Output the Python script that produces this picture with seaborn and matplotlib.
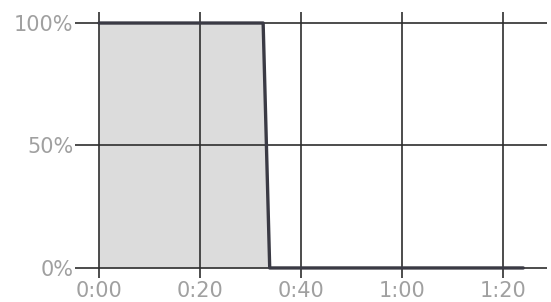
import matplotlib
matplotlib.use("Agg")
import matplotlib.pyplot as plt
import seaborn as sns
import pandas as pd

# data (seconds, percent)
time_s = [0, 32.5, 33.8, 84]
percent = [100, 100, 0, 0]
x_ticks = [0, 20, 40, 60, 80]
x_labels = ["0:00", "0:20", "0:40", "1:00", "1:20"]
y_ticks = [0, 50, 100]
y_labels = ["0%", "50%", "100%"]

sns.set_theme(style="white")
plt.rcParams['font.family'] = ['DejaVu Sans']

df = pd.DataFrame({"t": time_s, "p": percent})

fig = plt.figure(figsize=(5.51, 3.02), dpi=100)
ax = fig.add_axes([75/551, 24/302, (547-75)/551, (290-24)/302])
ax.set_xlim(-4.75, 88.7)
ax.set_ylim(-4.1, 104.5)

grid_c = "#2e2e2e"
for xt in x_ticks:
    ax.axvline(xt, color=grid_c, lw=1.2, zorder=2)
for yt in y_ticks:
    ax.axhline(yt, color=grid_c, lw=1.2, zorder=2)

ax.fill_between(df["t"], df["p"], 0, color="#dcdcdc", zorder=1, linewidth=0)
sns.lineplot(data=df, x="t", y="p", ax=ax, color="#3a3a44", lw=2.4, zorder=3,
             sort=False)

for s in ax.spines.values():
    s.set_visible(False)
ax.set_xticks(x_ticks)
ax.set_xticklabels(x_labels)
ax.set_yticks(y_ticks)
ax.set_yticklabels(y_labels)
ax.tick_params(axis="both", length=0, labelsize=15, labelcolor="#a0a0a0")
ax.tick_params(axis="x", pad=2)
ax.tick_params(axis="y", pad=1)
ax.set_xlabel("")
ax.set_ylabel("")

fig.savefig("out.png", dpi=100, facecolor="white")
